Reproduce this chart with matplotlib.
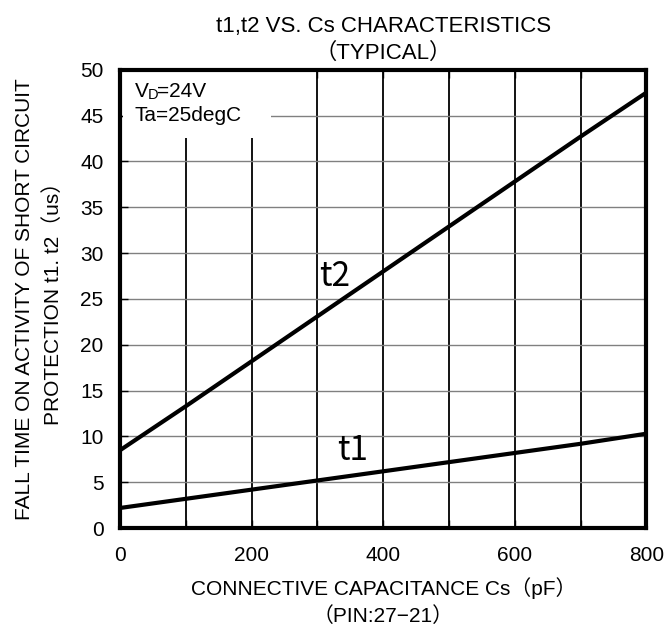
import numpy as np
import matplotlib.pyplot as plt
from matplotlib.patches import Rectangle

plt.rcParams['font.family'] = ['Liberation Sans', 'Noto Sans CJK JP', 'DejaVu Sans']

# values
cs = [0, 100, 200, 300, 400, 500, 600, 700, 800]
t1 = [2.2, 3.2, 4.2, 5.2, 6.2, 7.2, 8.2, 9.2, 10.3]
t2 = [8.5, 13.3, 18.2, 23.1, 28.0, 32.9, 37.8, 42.7, 47.5]
xticks = [0, 200, 400, 600, 800]
yticks = [0, 5, 10, 15, 20, 25, 30, 35, 40, 45, 50]

fig = plt.figure(figsize=(6.67, 6.28), dpi=100)
ax = fig.add_axes([0.180, 0.159, 0.789, 0.730])

# grid: black verticals, grey horizontals
for x in range(100, 800, 100):
    ax.axvline(x, color='black', lw=1.3, zorder=1)
for y in yticks[1:-1]:
    ax.axhline(y, color='#808080', lw=1.0, zorder=1)

# white box behind the conditions text
ax.add_patch(Rectangle((4, 42.5), 226, 7.3, facecolor='white', edgecolor='none', zorder=2))

ax.plot(cs, t2, color='black', lw=3, zorder=3)
ax.plot(cs, t1, color='black', lw=3, zorder=3)

x0 = 22
ax.text(x0, 47.6, 'V', fontsize=15, ha='left', va='center', zorder=4)
ax.text(x0 + 20, 47.25, 'D', fontsize=10.5, ha='left', va='center', zorder=4)
ax.text(x0 + 34, 47.6, '=24V', fontsize=15, ha='left', va='center', zorder=4)
ax.text(x0, 45.0, 'Ta=25degC', fontsize=15, ha='left', va='center', zorder=4)

ax.text(326, 27.4, 't2', fontsize=24, family=['Noto Sans CJK JP'], ha='center', va='center', zorder=4)
ax.text(353, 8.5, 't1', fontsize=24, family=['Noto Sans CJK JP'], ha='center', va='center', zorder=4)

ax.set_xlim(0, 800)
ax.set_ylim(0, 50)
ax.set_xticks(xticks)
ax.set_yticks(yticks)
ax.tick_params(direction='in', length=6, width=1, labelsize=15,
               top=True, right=False)
ax.tick_params(axis='x', pad=13)
ax.tick_params(axis='y', pad=12)
ax.set_xticks(cs, minor=True)
ax.tick_params(which='minor', direction='in', length=6, width=1, top=True)
for s in ax.spines.values():
    s.set_linewidth(3)

ax.set_title('t1,t2 VS. Cs CHARACTERISTICS\n（TYPICAL）', fontsize=16, pad=8, linespacing=1.35)
ax.set_xlabel('CONNECTIVE CAPACITANCE Cs（pF）\n（PIN:27−21）', fontsize=15, linespacing=1.4)
ax.xaxis.set_label_coords(0.5, -0.108)
ax.xaxis.label.set_va('top')
ax.set_ylabel('FALL TIME ON ACTIVITY OF SHORT CIRCUIT\nPROTECTION t1. t2（us）', fontsize=15, linespacing=1.6)
ax.yaxis.set_label_coords(-0.108, 0.5)

fig.savefig('out.png', dpi=100)
